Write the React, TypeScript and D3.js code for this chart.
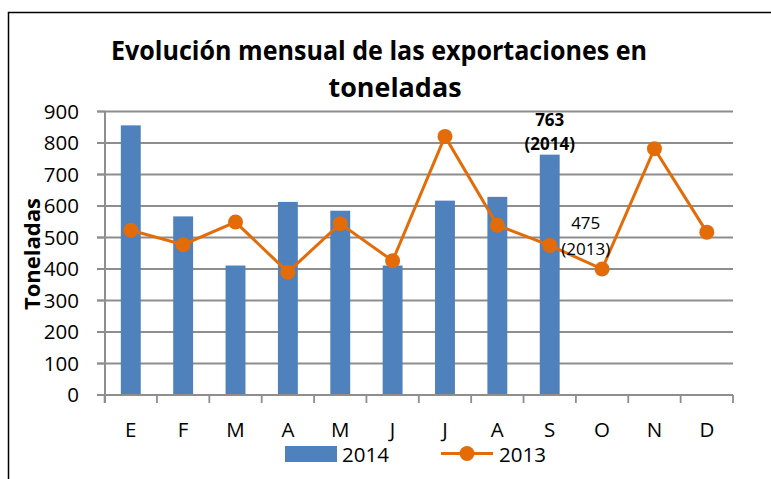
import React, { useEffect, useRef } from 'react';
import * as d3 from 'd3';

const months = ['E', 'F', 'M', 'A', 'M', 'J', 'J', 'A', 'S', 'O', 'N', 'D'];
const values2014 = [856, 567, 411, 613, 585, 411, 617, 629, 763, null, null, null];
const values2013 = [523, 477, 549, 390, 544, 426, 821, 539, 475, 400, 782, 517];
const yTicks = [0, 100, 200, 300, 400, 500, 600, 700, 800, 900];

const FONT = '"Open Sans", "Liberation Sans", Arial, sans-serif';
const BLUE = '#4F81BD';
const ORANGE = '#E36C09';
const GRID = '#8E8E8E';

const App = () => {
  const ref = useRef<SVGSVGElement>(null);

  useEffect(() => {
    const svg = d3.select(ref.current)
      .attr('width', 771)
      .attr('height', 479);

    svg.selectAll('*').remove();

    svg.append('rect').attr('width', 771).attr('height', 479).attr('fill', '#fff');

    // chart frame (clipped at the right and bottom in the picture)
    svg.append('path')
      .attr('d', 'M8.5,479 L8.5,12.5 L771,12.5')
      .attr('fill', 'none')
      .attr('stroke', '#000')
      .attr('stroke-width', 1.5);

    const x = d3.scaleBand<number>()
      .domain(months.map((d, i) => i))
      .range([104.6, 733])
      .padding(0);

    const y = d3.scaleLinear()
      .domain([0, 900])
      .range([395, 111.5]);

    const cx = (i: number) => (x(i) as number) + x.bandwidth() / 2;

    // gridlines
    svg.append('g')
      .selectAll('line')
      .data(yTicks.filter(d => d > 0))
      .enter()
      .append('line')
      .attr('x1', 97)
      .attr('x2', 733)
      .attr('y1', d => y(d))
      .attr('y2', d => y(d))
      .attr('stroke', GRID)
      .attr('stroke-width', 1.8);

    // y tick marks + labels
    const yAxis = svg.append('g');
    yAxis.selectAll('line')
      .data(yTicks)
      .enter()
      .append('line')
      .attr('x1', 97)
      .attr('x2', 105)
      .attr('y1', d => y(d))
      .attr('y2', d => y(d))
      .attr('stroke', GRID)
      .attr('stroke-width', 1.8);
    yAxis.selectAll('text')
      .data(yTicks)
      .enter()
      .append('text')
      .attr('x', 79)
      .attr('y', d => y(d) + 7)
      .attr('text-anchor', 'end')
      .attr('font-family', FONT)
      .attr('font-size', 20.5)
      .attr('fill', '#000')
      .text(d => d);

    // y axis title
    svg.append('text')
      .attr('transform', 'translate(40,254) rotate(-90)')
      .attr('text-anchor', 'middle')
      .attr('font-family', FONT)
      .attr('font-weight', 'bold')
      .attr('font-size', 21)
      .attr('textLength', 112)
      .attr('lengthAdjust', 'spacingAndGlyphs')
      .text('Toneladas');

    // bars
    const bw = x.bandwidth() * 0.38;
    svg.append('g')
      .selectAll('rect')
      .data(values2014.map((v, i) => ({ v, i })).filter(d => d.v != null))
      .enter()
      .append('rect')
      .attr('x', d => cx(d.i) - bw / 2)
      .attr('y', d => y(d.v as number))
      .attr('width', bw)
      .attr('height', d => y(0) - y(d.v as number))
      .attr('fill', BLUE);

    // axes lines
    svg.append('line')
      .attr('x1', 105).attr('x2', 105)
      .attr('y1', 111.5).attr('y2', 403)
      .attr('stroke', GRID).attr('stroke-width', 2);
    svg.append('line')
      .attr('x1', 97).attr('x2', 733)
      .attr('y1', 395).attr('y2', 395)
      .attr('stroke', GRID).attr('stroke-width', 2);

    // x tick marks + labels
    svg.append('g')
      .selectAll('line')
      .data(d3.range(months.length + 1))
      .enter()
      .append('line')
      .attr('x1', i => i < months.length ? (x(i) as number) : 733)
      .attr('x2', i => i < months.length ? (x(i) as number) : 733)
      .attr('y1', 395)
      .attr('y2', 403)
      .attr('stroke', GRID)
      .attr('stroke-width', 1.8);
    svg.append('g')
      .selectAll('text')
      .data(months)
      .enter()
      .append('text')
      .attr('x', (d, i) => cx(i))
      .attr('y', 437)
      .attr('text-anchor', 'middle')
      .attr('font-family', FONT)
      .attr('font-size', 20.5)
      .text(d => d);

    // 2013 line
    const line = d3.line<number>()
      .x((d, i) => cx(i))
      .y(d => y(d));
    svg.append('path')
      .datum(values2013)
      .attr('d', line)
      .attr('fill', 'none')
      .attr('stroke', ORANGE)
      .attr('stroke-width', 3);
    svg.append('g')
      .selectAll('circle')
      .data(values2013)
      .enter()
      .append('circle')
      .attr('cx', (d, i) => cx(i))
      .attr('cy', d => y(d))
      .attr('r', 7.5)
      .attr('fill', ORANGE);

    // data labels for September
    const si = 8;
    const lbl = svg.append('g').attr('font-family', FONT).attr('font-size', 17).attr('text-anchor', 'middle');
    lbl.append('text').attr('x', cx(si)).attr('y', y(values2014[si] as number) - 29)
      .attr('font-weight', 'bold').text(values2014[si] as number);
    lbl.append('text').attr('x', cx(si)).attr('y', y(values2014[si] as number) - 5)
      .attr('font-weight', 'bold').text('(2014)');
    lbl.append('text').attr('x', cx(si) + 36).attr('y', y(values2013[si]) - 16)
      .text(values2013[si]);
    lbl.append('text').attr('x', cx(si) + 36).attr('y', y(values2013[si]) + 10)
      .text('(2013)');

    // title
    const title = svg.append('g')
      .attr('font-family', FONT)
      .attr('font-weight', 'bold')
      .attr('font-size', 27)
      .attr('text-anchor', 'middle');
    title.append('text').attr('x', 379).attr('y', 60)
      .attr('textLength', 536).attr('lengthAdjust', 'spacingAndGlyphs')
      .text('Evolución mensual de las exportaciones en');
    title.append('text').attr('x', 395).attr('y', 97)
      .attr('textLength', 133).attr('lengthAdjust', 'spacingAndGlyphs')
      .text('toneladas');

    // legend
    const leg = svg.append('g').attr('font-family', FONT).attr('font-size', 20.5);
    leg.append('rect').attr('x', 285).attr('y', 446).attr('width', 52).attr('height', 16).attr('fill', BLUE);
    leg.append('text').attr('x', 342).attr('y', 462).text('2014');
    leg.append('line').attr('x1', 441).attr('x2', 493).attr('y1', 453.5).attr('y2', 453.5)
      .attr('stroke', ORANGE).attr('stroke-width', 3);
    leg.append('circle').attr('cx', 467).attr('cy', 453.5).attr('r', 7.5).attr('fill', ORANGE);
    leg.append('text').attr('x', 499).attr('y', 462).text('2013');
  }, []);

  return <svg ref={ref} style={{ position: 'absolute', left: 0, top: 0, display: 'block' }}></svg>;
};

export default App;
